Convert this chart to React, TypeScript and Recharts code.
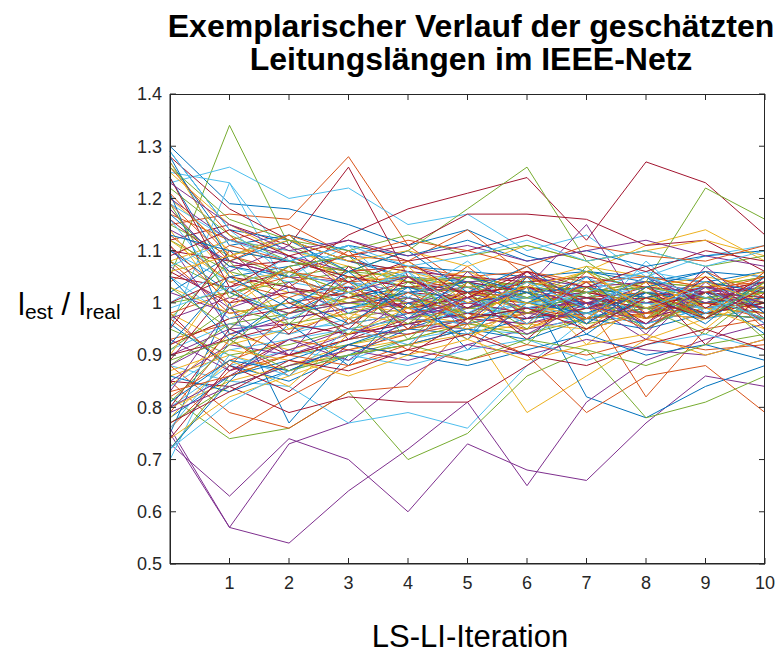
import { LineChart, Line, XAxis, YAxis } from "recharts";

// LS-LI iteration index and axis ticks
const iterations = [0, 1, 2, 3, 4, 5, 6, 7, 8, 9, 10];
const xTicks = [1, 2, 3, 4, 5, 6, 7, 8, 9, 10];
const yTicks = [0.5, 0.6, 0.7, 0.8, 0.9, 1, 1.1, 1.2, 1.3, 1.4];

// MATLAB default colour order, cycled over the lines
const palette = ["#0072BD", "#D95319", "#EDB120", "#7E2F8E", "#77AC30", "#4DBEEE", "#A2142F"];

// l_est / l_real per line, one value per iteration
const lengthRatios: number[][] = [
  [1.30, 1.19, 1.18, 1.15, 1.11, 1.14, 1.09, 1.06, 1.05, 1.04, 1.06],
  [1.15, 1.17, 1.16, 1.28, 1.11, 1.03, 0.98, 1.01, 0.96, 1.00, 0.98],
  [1.18, 1.05, 1.02, 1.00, 0.98, 0.96, 0.79, 0.86, 0.93, 0.97, 1.00],
  [0.73, 0.63, 0.74, 0.70, 0.60, 0.73, 0.68, 0.66, 0.77, 0.86, 0.84],
  [1.05, 1.34, 1.11, 1.06, 1.03, 1.02, 1.00, 1.01, 0.99, 1.00, 1.01],
  [1.23, 1.26, 1.20, 1.22, 1.15, 1.17, 1.10, 1.13, 1.05, 1.09, 1.11],
  [1.12, 1.15, 1.11, 1.26, 1.05, 1.00, 1.02, 0.99, 1.01, 0.98, 1.00],

  [0.75, 1.00, 0.77, 0.90, 0.95, 0.99, 1.03, 0.82, 0.78, 0.84, 0.88],
  [0.85, 0.75, 0.82, 0.88, 0.92, 0.95, 0.90, 0.79, 0.86, 0.88, 0.79],
  [0.92, 0.97, 1.02, 1.00, 1.03, 1.05, 1.02, 1.06, 1.11, 1.14, 1.08],
  [0.75, 0.57, 0.73, 0.77, 0.86, 0.92, 0.95, 0.97, 0.99, 1.00, 0.98],
  [0.82, 0.74, 0.76, 0.83, 0.70, 0.75, 0.86, 0.91, 0.78, 0.81, 0.86],
  [0.88, 0.85, 0.84, 0.77, 0.79, 0.76, 0.88, 0.97, 1.00, 0.98, 1.00],
  [1.10, 1.08, 1.05, 1.13, 1.18, 1.21, 1.24, 1.12, 1.27, 1.23, 1.13],

  [1.29, 1.14, 1.12, 1.08, 1.05, 1.04, 1.02, 1.03, 1.01, 1.00, 1.02],
  [0.88, 0.79, 0.76, 0.83, 0.84, 0.96, 0.98, 1.00, 0.97, 1.02, 0.99],
  [1.08, 1.12, 1.10, 1.07, 1.04, 1.05, 1.03, 1.02, 1.04, 1.03, 1.05],
  [0.76, 0.57, 0.54, 0.64, 0.72, 0.81, 0.65, 0.81, 0.89, 0.93, 0.96],
  [1.00, 1.02, 1.04, 1.06, 1.10, 1.18, 1.26, 1.08, 1.00, 0.98, 1.01],
  [1.25, 1.23, 1.08, 1.05, 1.03, 1.02, 0.99, 1.01, 1.00, 1.02, 1.00],
  [1.05, 1.03, 1.06, 1.09, 1.11, 1.17, 1.17, 1.16, 1.11, 1.12, 1.06],

  [1.27, 1.11, 1.13, 1.10, 1.07, 1.06, 1.05, 1.06, 1.04, 1.06, 1.05],
  [0.93, 0.96, 0.94, 0.99, 1.00, 0.98, 0.95, 1.00, 0.82, 0.95, 0.97],
  [0.80, 0.85, 0.88, 0.92, 0.94, 0.97, 0.98, 0.97, 0.99, 1.00, 0.98],
  [1.02, 0.98, 1.00, 1.02, 0.99, 0.97, 1.03, 1.15, 0.97, 1.00, 1.02],
  [1.08, 1.02, 0.98, 1.01, 1.03, 1.00, 1.05, 1.01, 1.04, 1.22, 1.16],
  [0.95, 1.23, 1.02, 0.99, 1.01, 0.97, 1.00, 0.98, 1.02, 1.00, 0.99],
  [0.85, 0.84, 0.79, 0.82, 0.81, 0.81, 0.88, 0.95, 0.98, 1.01, 0.97],

  [1.24, 1.05, 1.07, 1.09, 1.04, 1.02, 1.01, 1.00, 1.02, 1.01, 1.03],
  [1.17, 1.12, 1.15, 1.09, 1.08, 1.14, 1.05, 1.02, 1.04, 1.01, 1.03],
  [1.20, 1.10, 1.08, 1.05, 1.06, 1.03, 1.04, 1.07, 1.05, 1.03, 1.06],
  [0.90, 0.95, 0.96, 0.94, 0.98, 0.99, 1.01, 0.98, 1.02, 1.01, 1.00],
  [0.72, 0.86, 0.90, 0.92, 0.95, 0.97, 0.99, 0.96, 0.98, 1.00, 0.99],
  [1.19, 1.12, 1.10, 1.08, 1.06, 1.04, 1.05, 1.03, 1.06, 1.04, 1.02],
  [0.98, 0.87, 0.93, 0.96, 0.98, 1.00, 1.03, 1.01, 1.00, 1.03, 1.01],

  [1.21, 0.94, 0.98, 1.03, 1.01, 0.99, 1.02, 0.97, 1.00, 0.98, 1.00],
  [1.13, 1.04, 1.01, 1.05, 1.03, 1.02, 1.01, 1.03, 0.99, 1.01, 1.00],
  [0.86, 0.90, 0.87, 0.91, 0.93, 0.96, 0.95, 0.99, 0.97, 1.01, 0.99],
  [1.14, 1.08, 1.05, 1.04, 1.02, 1.03, 1.01, 1.02, 1.00, 1.01, 0.99],
  [0.95, 0.90, 0.92, 0.95, 0.97, 0.99, 0.98, 1.01, 1.00, 1.02, 1.00],
  [0.70, 0.93, 0.95, 0.96, 0.98, 0.97, 1.00, 0.99, 1.01, 1.00, 1.02],
  [0.92, 0.97, 0.99, 1.00, 1.02, 1.01, 1.00, 1.02, 1.03, 1.02, 1.04],

  [0.78, 0.86, 0.89, 0.93, 0.95, 0.94, 0.97, 0.98, 0.96, 0.99, 0.98],
  [1.08, 0.98, 1.00, 1.02, 0.98, 1.00, 1.03, 0.99, 1.01, 1.00, 0.97],
  [1.25, 1.15, 1.09, 1.05, 1.04, 1.06, 1.02, 1.04, 1.03, 1.05, 1.03],
  [0.85, 0.92, 0.90, 0.94, 0.96, 0.95, 0.98, 0.97, 0.99, 0.98, 0.97],
  [1.15, 1.09, 1.05, 1.07, 1.04, 1.05, 1.03, 1.02, 1.04, 1.03, 1.05],
  [0.80, 0.88, 0.91, 0.89, 0.93, 0.95, 0.94, 0.98, 0.96, 0.99, 1.00],
  [1.28, 1.18, 1.12, 1.08, 1.06, 1.05, 1.04, 1.05, 1.03, 1.02, 1.04],

  [1.02, 1.09, 1.13, 1.04, 1.00, 0.97, 0.99, 1.01, 0.98, 1.02, 0.99],
  [0.76, 0.87, 0.90, 0.93, 0.95, 0.97, 0.96, 0.98, 1.00, 0.99, 1.01],
  [0.98, 0.92, 0.95, 0.98, 0.96, 0.99, 1.01, 0.98, 1.00, 0.99, 1.02],
  [1.20, 1.12, 1.09, 1.06, 1.07, 1.04, 1.05, 1.03, 1.04, 1.02, 1.03],
  [0.88, 0.96, 0.98, 1.00, 0.99, 1.02, 1.00, 1.03, 1.01, 0.99, 1.01],
  [1.10, 1.04, 1.06, 1.03, 1.05, 1.02, 1.04, 1.01, 1.03, 1.01, 1.02],
  [0.80, 0.95, 0.90, 0.93, 0.97, 0.96, 0.99, 1.00, 0.97, 1.00, 0.98],

  [0.96, 0.88, 0.85, 0.90, 0.92, 0.95, 0.93, 0.97, 0.95, 0.98, 0.97],
  [1.04, 1.11, 1.08, 1.06, 1.07, 1.05, 1.06, 1.04, 1.05, 1.03, 1.04],
  [0.84, 0.94, 0.91, 0.94, 0.97, 0.95, 0.98, 1.00, 0.97, 0.99, 0.98],
  [0.93, 0.87, 0.91, 0.95, 0.94, 0.97, 0.96, 0.99, 0.98, 0.97, 0.99],
  [1.12, 1.06, 1.03, 1.00, 1.02, 0.99, 1.01, 0.98, 1.00, 1.01, 0.99],
  [1.00, 1.07, 1.04, 1.02, 1.00, 1.03, 1.01, 1.00, 1.02, 1.03, 1.01],
  [1.16, 1.07, 1.08, 1.05, 1.03, 1.04, 1.02, 1.00, 1.01, 1.03, 1.02],

  [0.86, 0.83, 0.87, 0.92, 0.96, 0.98, 0.97, 1.00, 0.99, 1.01, 1.00],
  [1.21, 1.09, 1.06, 1.04, 1.05, 1.02, 1.03, 1.01, 1.02, 1.00, 1.01],
  [1.12, 1.04, 1.06, 1.02, 1.00, 1.01, 0.99, 1.02, 1.01, 1.00, 1.02],
  [0.97, 1.01, 0.98, 1.00, 1.01, 0.99, 1.02, 1.00, 1.03, 0.99, 1.01],
  [0.77, 0.84, 0.88, 0.90, 0.93, 0.96, 0.94, 0.97, 0.99, 0.98, 0.97],
  [0.91, 0.96, 0.94, 0.97, 0.99, 0.98, 1.00, 1.01, 0.99, 1.01, 1.00],
  [1.06, 1.00, 1.02, 1.03, 0.99, 1.01, 1.04, 1.02, 1.00, 1.01, 0.99],

  [1.17, 1.07, 1.05, 1.01, 1.03, 1.00, 1.02, 1.03, 1.01, 1.04, 1.02],
  [0.98, 1.02, 1.05, 1.01, 0.99, 1.00, 0.98, 1.01, 1.00, 0.98, 1.00],
  [0.74, 0.82, 0.86, 0.90, 0.92, 0.94, 0.96, 0.95, 0.98, 0.97, 0.99],
  [1.07, 0.99, 1.03, 0.98, 1.00, 1.02, 0.99, 1.00, 0.98, 1.02, 1.00],
  [0.91, 0.99, 0.96, 0.98, 1.01, 0.98, 1.02, 0.99, 1.02, 1.00, 1.03],
  [1.05, 0.97, 1.00, 1.04, 1.02, 1.00, 1.01, 1.03, 1.00, 0.99, 1.01],
  [0.90, 0.93, 0.96, 0.94, 0.96, 0.98, 0.97, 0.99, 1.02, 0.98, 1.00],

  [1.10, 1.02, 0.97, 0.99, 1.02, 1.04, 1.00, 0.98, 1.02, 1.00, 1.01],
  [0.82, 0.89, 0.93, 0.91, 0.94, 0.96, 0.99, 0.97, 0.98, 1.00, 0.99],
  [1.03, 0.98, 1.00, 0.97, 0.99, 1.02, 1.00, 1.03, 0.99, 1.01, 1.00],
  [0.88, 0.94, 0.97, 0.99, 0.97, 1.00, 0.98, 1.01, 1.00, 1.02, 0.99],
  [1.22, 1.13, 1.08, 1.06, 1.05, 1.03, 1.04, 1.02, 1.03, 1.01, 1.02],
  [0.84, 0.91, 0.93, 0.95, 0.97, 0.96, 0.99, 0.98, 1.00, 0.97, 0.99],
  [1.00, 1.05, 1.03, 1.01, 1.04, 1.02, 1.03, 1.01, 0.99, 1.02, 1.01],

  [1.28, 1.08, 1.12, 1.06, 1.10, 1.02, 1.07, 0.99, 1.05, 0.97, 1.04],
  [0.79, 0.93, 0.86, 0.97, 0.91, 1.04, 0.96, 1.06, 0.98, 1.05, 0.95],
  [1.14, 0.99, 1.07, 0.97, 1.05, 0.96, 1.04, 0.95, 1.03, 0.97, 1.06],
  [0.83, 0.99, 0.90, 1.03, 0.95, 1.06, 0.97, 1.04, 0.94, 1.07, 0.98],
  [0.97, 1.08, 0.96, 1.05, 0.93, 1.02, 0.95, 1.07, 0.97, 1.03, 0.93],
  [1.16, 1.02, 1.09, 0.98, 1.06, 0.94, 1.03, 0.96, 1.08, 0.98, 1.03],
  [0.89, 1.03, 0.94, 1.07, 0.98, 1.02, 0.93, 1.03, 0.96, 1.05, 0.97],

  [0.72, 0.85, 0.96, 0.88, 1.00, 0.93, 1.05, 0.94, 1.02, 0.96, 1.05],
  [1.26, 1.13, 1.03, 1.10, 0.99, 1.07, 0.98, 1.04, 0.97, 1.06, 1.01],
  [0.90, 1.06, 0.95, 1.01, 1.07, 0.97, 1.03, 0.92, 1.01, 0.95, 1.04],
  [1.11, 0.95, 1.04, 0.93, 1.01, 0.96, 1.06, 1.00, 0.93, 1.04, 0.96],
  [0.81, 0.92, 1.01, 0.94, 1.04, 0.97, 0.92, 1.03, 0.99, 0.94, 1.03],
  [1.29, 1.14, 1.05, 1.11, 1.01, 1.08, 0.99, 1.02, 1.06, 0.98, 1.05],
  [0.95, 1.10, 1.00, 0.95, 1.05, 0.99, 1.06, 0.97, 1.04, 0.92, 1.02],

  [1.05, 0.93, 1.01, 0.96, 1.03, 0.91, 1.00, 1.05, 0.95, 1.02, 0.94],
  [0.97, 0.88, 0.98, 1.04, 0.95, 1.01, 1.07, 0.96, 1.03, 0.97, 1.06],
  [0.78, 0.89, 0.84, 0.94, 0.99, 0.93, 1.00, 0.97, 1.04, 0.99, 0.95],
  [1.18, 1.06, 1.11, 1.02, 1.05, 0.98, 1.03, 0.99, 1.05, 1.00, 1.04],
  [1.03, 0.95, 1.06, 1.02, 0.96, 1.04, 0.98, 1.02, 0.95, 1.01, 0.97],
  [0.76, 0.90, 0.86, 0.95, 0.92, 1.01, 0.96, 1.05, 0.99, 1.03, 0.96],
  [1.24, 1.03, 1.09, 1.04, 1.08, 1.01, 1.06, 1.03, 1.07, 0.99, 1.05],

  [0.92, 1.05, 0.99, 1.06, 0.97, 1.05, 1.02, 0.96, 1.03, 1.06, 0.98],
  [1.11, 1.00, 1.07, 0.96, 1.02, 0.97, 1.05, 1.00, 0.95, 1.02, 1.05],
  [1.27, 1.09, 1.13, 1.02, 1.08, 1.00, 1.03, 1.06, 0.99, 1.04, 1.00],
  [0.80, 0.86, 0.93, 0.89, 0.97, 1.01, 0.94, 1.00, 0.96, 1.03, 1.00],
  [1.19, 1.01, 1.07, 1.09, 0.99, 1.05, 1.01, 1.06, 1.02, 0.97, 1.04],
  [0.99, 1.03, 0.97, 1.02, 1.06, 0.98, 1.04, 0.99, 1.05, 1.01, 0.97],
  [0.74, 0.88, 0.83, 0.92, 0.90, 0.97, 0.99, 0.95, 1.01, 0.97, 1.03],

  [1.13, 1.10, 1.08, 1.11, 1.09, 1.12, 1.08, 1.10, 1.07, 1.09, 1.10],
  [0.83, 0.86, 0.90, 0.88, 0.91, 0.89, 0.92, 0.90, 0.93, 0.91, 0.92],
  [1.06, 1.09, 1.12, 1.08, 1.10, 1.07, 1.11, 1.08, 1.10, 1.12, 1.09],
  [0.79, 0.84, 0.88, 0.91, 0.89, 0.92, 0.90, 0.93, 0.91, 0.90, 0.93],
  [1.26, 1.16, 1.12, 1.10, 1.13, 1.09, 1.11, 1.08, 1.10, 1.07, 1.09],
  [0.72, 0.81, 0.87, 0.90, 0.88, 0.91, 0.93, 0.89, 0.92, 0.94, 0.91],
  [1.09, 1.14, 1.09, 1.12, 1.08, 1.10, 1.13, 1.09, 1.06, 1.10, 1.08],

  [0.81, 0.89, 0.87, 0.92, 0.90, 0.88, 0.91, 0.94, 0.90, 0.92, 0.89],
  [1.19, 1.08, 1.13, 1.09, 1.12, 1.10, 1.07, 1.11, 1.09, 1.08, 1.11],
  [0.87, 0.91, 0.89, 0.86, 0.90, 0.93, 0.89, 0.92, 0.94, 0.90, 0.93],
  [1.23, 1.15, 1.10, 1.12, 1.09, 1.11, 1.08, 1.10, 1.12, 1.09, 1.07],
  [0.89, 0.93, 0.87, 0.90, 0.92, 0.89, 0.93, 0.91, 0.88, 0.92, 0.94],
  [1.07, 1.12, 1.08, 1.11, 1.07, 1.09, 1.12, 1.08, 1.10, 1.07, 1.10],
  [0.77, 0.83, 0.89, 0.87, 0.91, 0.94, 0.90, 0.88, 0.92, 0.95, 0.91],
];

const W = 783;
const H = 653;
const PLOT_LEFT = 170;
const PLOT_TOP = 94;
const PLOT_W = 595;
const PLOT_H = 470;
const AXIS_COLOR = "#262626";
const FONT = "'Liberation Sans', Arial, Helvetica, sans-serif";

const rows = iterations.map((it, i) => {
  const row: Record<string, number> = { it };
  lengthRatios.forEach((s, k) => {
    row["s" + k] = s[i];
  });
  return row;
});

// MATLAB-like ticks: pointing inward on both bottom and top edges
const renderXTick = (props: any) => {
  const { x, y, payload } = props;
  return (
    <g>
      <line x1={x} x2={x} y1={y} y2={y - 6} stroke={AXIS_COLOR} />
      <line x1={x} x2={x} y1={y - PLOT_H} y2={y - PLOT_H + 6} stroke={AXIS_COLOR} />
      <text x={x} y={y + 25} textAnchor="middle" style={{ fontSize: 18, fontFamily: FONT, fill: AXIS_COLOR }}>
        {payload.value}
      </text>
    </g>
  );
};

// same on the left and right edges
const renderYTick = (props: any) => {
  const { x, y, payload } = props;
  return (
    <g>
      <line x1={x} x2={x + 6} y1={y} y2={y} stroke={AXIS_COLOR} />
      <line x1={x + PLOT_W} x2={x + PLOT_W - 6} y1={y} y2={y} stroke={AXIS_COLOR} />
      <text x={x - 8} y={y} dy="0.35em" textAnchor="end" style={{ fontSize: 18, fontFamily: FONT, fill: AXIS_COLOR }}>
        {String(Math.round(payload.value * 10) / 10)}
      </text>
    </g>
  );
};

export default function App() {
  return (
    <div style={{ position: "absolute", left: 0, top: 0, width: W, height: H, background: "#fff", fontFamily: FONT }}>
      <div
        style={{
          position: "absolute",
          left: 471 - 340,
          width: 680,
          top: 10,
          textAlign: "center",
          fontWeight: "bold",
          fontSize: 32,
          lineHeight: "33px",
          color: "#000",
        }}
      >
        Exemplarischer Verlauf der geschätzten
        <br />
        Leitungslängen im IEEE-Netz
      </div>

      <LineChart
        width={W}
        height={H}
        data={rows}
        margin={{ top: PLOT_TOP, right: W - PLOT_LEFT - PLOT_W, left: PLOT_LEFT - 60, bottom: H - PLOT_TOP - PLOT_H - 40 }}
      >
        <XAxis
          dataKey="it"
          type="number"
          domain={[0, 10]}
          ticks={xTicks}
          height={40}
          stroke={AXIS_COLOR}
          tickSize={0}
          tickMargin={0}
          tick={renderXTick}
          interval={0}
        />
        <YAxis
          type="number"
          domain={[0.5, 1.4]}
          ticks={yTicks}
          width={60}
          stroke={AXIS_COLOR}
          tickSize={0}
          tickMargin={0}
          tick={renderYTick}
          interval={0}
        />
        {lengthRatios.map((_, k) => (
          <Line
            key={k}
            dataKey={"s" + k}
            type="linear"
            stroke={palette[k % palette.length]}
            strokeWidth={1}
            dot={false}
            activeDot={false}
            isAnimationActive={false}
          />
        ))}
      </LineChart>

      <div
        style={{
          position: "absolute",
          left: PLOT_LEFT,
          top: PLOT_TOP,
          width: PLOT_W,
          height: PLOT_H,
          border: `1px solid ${AXIS_COLOR}`,
          boxSizing: "border-box",
          pointerEvents: "none",
        }}
      />

      <div style={{ position: "absolute", left: 18, top: 289, fontSize: 31, lineHeight: "31px", color: "#000", whiteSpace: "nowrap" }}>
        l<span style={{ fontSize: 21, verticalAlign: "-4px" }}>est</span> / l
        <span style={{ fontSize: 21, verticalAlign: "-4px" }}>real</span>
      </div>

      <div
        style={{
          position: "absolute",
          left: 470 - 150,
          width: 300,
          top: 625,
          textAlign: "center",
          fontSize: 31,
          lineHeight: "24px",
          color: "#000",
        }}
      >
        LS-LI-Iteration
      </div>
    </div>
  );
}
